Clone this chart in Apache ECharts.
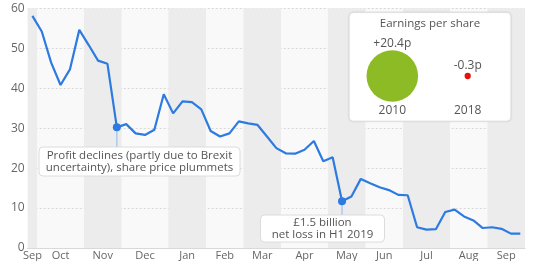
<!DOCTYPE html>
<html><head><meta charset="utf-8">
<script src="https://cdn.jsdelivr.net/npm/echarts@6/dist/echarts.min.js"></script>
<style>html,body{margin:0;padding:0;background:#fff}#c{width:533px;height:261px}</style>
</head><body><div id="c"></div>
<script>
// ---- data ----
const weekStart = '2018-09-24';
const price = [58.1,54.2,46.4,40.8,44.7,54.6,50.8,46.9,46.1,30.2,
  31.0,28.7,28.3,29.6,38.5,33.7,36.7,36.5,34.7,29.3,
  27.9,28.7,31.7,31.2,30.8,27.9,25.0,23.7,23.6,24.6,
  26.8,21.7,22.7,11.7,12.9,17.3,16.2,15.2,14.5,13.3,
  13.2,5.2,4.6,4.7,9.0,9.6,7.9,6.9,5.0,5.2,
  4.8,3.6,3.6];
const monthLabels = ['Sep','Oct','Nov','Dec','Jan','Feb','Mar','Apr','May','Jun','Jul','Aug','Sep'];
const monthWeeks = [1,5,4,5,4,4,4,5,4,4,5,4,4];
const yTicks = [0,10,20,30,40,50,60];
const annotations = [
  {index: 9, lines: ['Profit declines (partly due to Brexit', 'uncertainty), share price plummets']},
  {index: 33, lines: ['£1.5 billion', 'net loss in H1 2019']}
];
const epsYears = ['2010','2018'];
const epsValues = [20.4, -0.3];
const epsTitle = 'Earnings per share';

// ---- derived ----
const weeks = [];
{ const d0 = new Date(weekStart + 'T00:00:00Z');
  for (let i = 0; i < price.length; i++) {
    const d = new Date(d0.getTime() + i * 7 * 86400000);
    weeks.push(d.toISOString().slice(0,10));
  } }
const monthStart = [], monthMid = [];
{ let s = 0; monthWeeks.forEach(n => { monthStart.push(s); monthMid.push(s + n / 2); s += n; }); }
const total = monthWeeks.reduce((a,b)=>a+b,0);

const FONT = '"Open Sans", sans-serif';
const BLUE = '#2d7be0';
const chart = echarts.init(document.getElementById('c'), null, {renderer:'canvas'});

const bands = [];
monthWeeks.forEach((n,i) => { if (i % 2 === 0) bands.push([{xAxis: monthStart[i]}, {xAxis: monthStart[i] + n}]); });

chart.setOption({
  animation: false,
  textStyle: {fontFamily: FONT},
  grid: [
    {left: 27.7, right: 8, top: 8.3, bottom: 12.7, show: true, backgroundColor: '#f9f9f9', borderWidth: 0},
    {left: 354.6, top: 30, width: 150.8, height: 66}
  ],
  xAxis: [
    {type: 'category', gridIndex: 0, data: weeks, boundaryGap: true,
     axisLine: {lineStyle: {color: '#d9d9d9'}}, axisTick: {show: false}, axisLabel: {show: false}, splitLine: {show: false}},
    {type: 'value', gridIndex: 0, min: 0, max: total, position: 'bottom',
     axisLine: {show: false}, axisTick: {show: false}, splitLine: {show: false},
     axisLabel: {customValues: monthMid, margin: 2, fontSize: 11, color: '#666', fontFamily: FONT,
       formatter: v => monthLabels[monthMid.indexOf(v)] || ''}},
    {type: 'category', gridIndex: 1, data: epsYears, boundaryGap: true, z: 12,
     axisLine: {show: false}, axisTick: {show: false}, splitLine: {show: false},
     axisLabel: {fontSize: 12, color: '#555', margin: 9, fontFamily: FONT}}
  ],
  yAxis: [
    {type: 'value', gridIndex: 0, min: 0, max: 60, interval: 10, z: 1,
     axisLine: {show: false}, axisTick: {show: false},
     axisLabel: {fontSize: 12, color: '#666', margin: 3, fontFamily: FONT,
       formatter: v => yTicks.includes(v) ? String(v) : ''},
     splitLine: {lineStyle: {color: '#d8d8d8', type: [2,2], width: 1}}},
    {type: 'value', gridIndex: 1, min: -20, max: 46, show: false}
  ],
  series: [
    {type: 'line', xAxisIndex: 1, yAxisIndex: 0, data: [], z: 0, silent: true,
     markArea: {silent: true, itemStyle: {color: '#ececec'}, data: bands}},
    {type: 'line', xAxisIndex: 0, yAxisIndex: 0, data: price, z: 3,
     symbol: 'none', lineStyle: {color: BLUE, width: 2.2}, itemStyle: {color: BLUE},
     markPoint: {symbol: 'circle', symbolSize: 8, silent: true, label: {show: false},
       itemStyle: {color: BLUE},
       data: annotations.map(a => ({coord: [weeks[a.index], price[a.index]]}))}},
    {type: 'scatter', xAxisIndex: 2, yAxisIndex: 1, z: 20,
     data: epsValues.map((v,i) => [epsYears[i], 0, v]),
     encode: {x: 0, y: 1},
     symbolSize: d => Math.sqrt(Math.abs(d[2])) * 11.42,
     itemStyle: {color: p => p.data[2] > 0 ? '#8cbb26' : '#e3120b', opacity: 1},
     label: {show: true, position: 'top', distance: 1, fontSize: 12, color: '#555', fontFamily: FONT,
       formatter: p => (p.data[2] > 0 ? '+' : '') + p.data[2] + 'p'}}
  ]
});

// annotations & inset box
const boxes = [
  {cx: 139.5, top: 147, w: 201, h: 29},
  {cx: 322.5, top: 215, w: 124, h: 27}
];
const g = [];
annotations.forEach((a, k) => {
  const p = chart.convertToPixel({xAxisIndex: 0, yAxisIndex: 0}, [weeks[a.index], price[a.index]]);
  const b = boxes[k];
  g.push({type: 'line', z: 2, shape: {x1: p[0], y1: p[1], x2: p[0], y2: b.top}, style: {stroke: '#a9c9ef', lineWidth: 1.5}});
  g.push({type: 'rect', z: 4, shape: {x: b.cx - b.w/2, y: b.top, width: b.w, height: b.h, r: 4},
    style: {fill: '#fff', stroke: '#dcdcdc', lineWidth: 1}});
  g.push({type: 'text', z: 5, x: b.cx, y: b.top + b.h/2,
    style: {text: a.lines.join('\n'), fill: '#555', font: '11.5px ' + FONT, align: 'center', verticalAlign: 'middle', lineHeight: 12.5}});
});
g.push({type: 'rect', z: 10, shape: {x: 349, y: 12.3, width: 162, height: 109, r: 4},
  style: {fill: '#fff', stroke: '#dcdcdc', lineWidth: 1, shadowBlur: 2, shadowColor: 'rgba(0,0,0,0.08)'}});
g.push({type: 'text', z: 11, x: 430, y: 24, style: {text: epsTitle, fill: '#555', font: '11.5px ' + FONT, align: 'center', verticalAlign: 'middle'}});
chart.setOption({graphic: g});
</script></body></html>
